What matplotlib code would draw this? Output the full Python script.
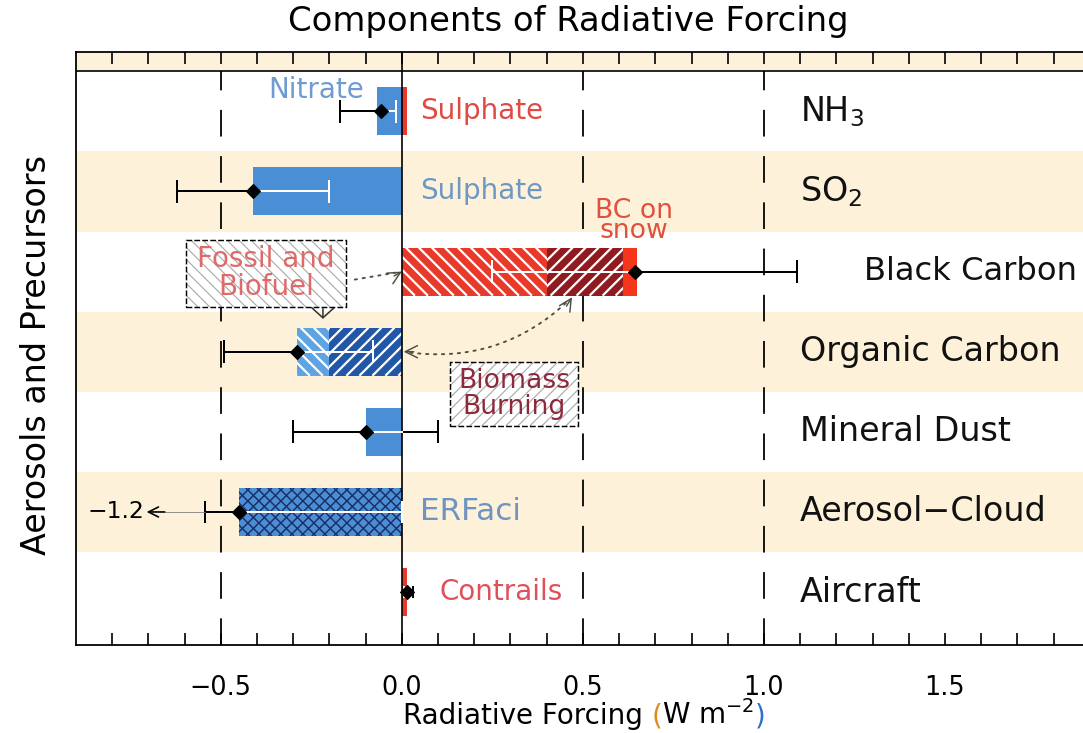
import matplotlib
matplotlib.use("Agg")
import matplotlib.pyplot as plt
from matplotlib.patches import Rectangle
from matplotlib.collections import LineCollection

# rows, top to bottom
row_names = ['NH$_3$', 'SO$_2$', 'Black Carbon', 'Organic Carbon', 'Mineral Dust', 'Aerosol\u2212Cloud', 'Aircraft']
row_y = [7, 6, 5, 4, 3, 2, 1]

# best estimate (diamond) and uncertainty range, W m-2
totals = [-0.058, -0.41, 0.644, -0.29, -0.10, -0.45, 0.015]
err_low = [-0.17, -0.62, 0.25, -0.49, -0.30, -1.2, 0.005]
err_high = [-0.016, -0.20, 1.09, -0.08, 0.10, 0.0, 0.03]

# components making up each bar
nh3_nitrate = -0.07
nh3_sulphate = 0.015
so2_sulphate = -0.41
bc_fossil = 0.40
bc_biomass = 0.21
bc_snow = 0.04
oc_biomass = -0.20
oc_fossil = -0.09
dust = -0.10
aci = -0.45
contrails = 0.015

xticks = [-0.5, 0.0, 0.5, 1.0, 1.5]
xtick_labels = ['\u22120.5', '0.0', '0.5', '1.0', '1.5']
dashed_x = [-0.5, 0.5, 1.0]

BEIGE = '#fdf2d9'
BLUE = '#4a8fd6'
RED = '#e8392b'
DARKRED = '#8f1b20'
SNOWRED = '#f5361c'
LIGHTBLUE = '#5ea3e2'
DARKBLUE = '#2256a6'
NAVY = '#1b2c62'

DPI = 80
W, H_PX = 1083, 733
XLIM = (-0.9, 2.0)
YLIM = (0.34, 7.74)
AX_W, AX_H = 1050, 593
fig = plt.figure(figsize=(W / DPI, H_PX / DPI), dpi=DPI)
ax = fig.add_axes([76 / W, 1 - 645 / H_PX, AX_W / W, AX_H / H_PX])
ax.set_xlim(*XLIM)
ax.set_ylim(*YLIM)
SX = AX_W / (XLIM[1] - XLIM[0])   # px per x unit
SY = AX_H / (YLIM[1] - YLIM[0])   # px per y unit

# background bands
for y in [6, 4, 2]:
    ax.axhspan(y - 0.5, y + 0.5, color=BEIGE, lw=0, zorder=0)
ax.axhspan(7.5, 7.74, color=BEIGE, lw=0, zorder=0)
ax.axhline(7.5, color='black', lw=1.5, zorder=1)

for x in dashed_x:
    ax.plot([x, x], [0.34, 7.5], color='black', lw=1.6, dashes=(15, 11), zorder=1)
ax.axvline(0, color='black', lw=1.5, zorder=4)

H = 0.6


def hatch_lines(patch, x0, x1, y0, y1, direction, step_px, color, lw, zorder):
    # 45 degree lines (on screen) clipped to the patch
    x0, x1 = min(x0, x1), max(x0, x1)
    dx = (y1 - y0) * SY / SX
    step = step_px / SX
    segs = []
    c = x0 - dx
    while c < x1 + step:
        if direction == '/':
            segs.append([(c, y0), (c + dx, y1)])
        else:
            segs.append([(c, y1), (c + dx, y0)])
        c += step
    lc = LineCollection(segs, colors=color, linewidths=lw, zorder=zorder)
    ax.add_collection(lc)
    lc.set_clip_path(patch)


def hbar(y, left, width, color, hatch=None, hcolor='white', hlw=2.0, step=13):
    p = ax.barh(y, width, left=left, height=H, color=color, lw=0, zorder=2)[0]
    for d in (hatch or ''):
        hatch_lines(p, left, left + width, y - H / 2, y + H / 2, d, step, hcolor, hlw, 2.5)
    return p


# NH3
hbar(7, 0, nh3_nitrate, BLUE)
hbar(7, 0, nh3_sulphate, RED)
# SO2
hbar(6, 0, so2_sulphate, BLUE)
# black carbon: fossil+biofuel, biomass burning, snow
hbar(5, 0, bc_fossil, RED, '\\')
hbar(5, bc_fossil, bc_biomass, DARKRED, '/')
hbar(5, bc_fossil + bc_biomass, bc_snow, SNOWRED)
# organic carbon
hbar(4, 0, oc_biomass, DARKBLUE, '/')
hbar(4, oc_biomass, oc_fossil, LIGHTBLUE, '\\')
# dust
hbar(3, 0, dust, BLUE)
# aerosol-cloud
hbar(2, 0, aci, BLUE, '/\\', NAVY, 1.3, 11)
# contrails
hbar(1, 0, contrails, RED)

bar_span = {
    7: (nh3_nitrate, nh3_sulphate),
    6: (so2_sulphate, 0),
    5: (0, bc_fossil + bc_biomass + bc_snow),
    4: (oc_biomass + oc_fossil, 0),
    3: (dust, 0),
    2: (aci, 0),
    1: (0, contrails),
}


def errbar(y, lo, hi, tot, cap=0.13):
    b0, b1 = bar_span[y]
    if lo > XLIM[0]:
        ax.plot([lo, hi], [y, y], color='black', lw=1.8, zorder=5)
    w0, w1 = max(lo, b0), min(hi, b1)
    if w1 > w0:
        ax.plot([w0, w1], [y, y], color='white', lw=1.8, zorder=5)
    for e in (lo, hi):
        if e <= XLIM[0]:
            continue
        c = 'white' if b0 <= e <= b1 and e != 0 else 'black'
        if y == 2 and e == 0:
            c = 'white'
        ax.plot([e, e], [y - cap, y + cap], color=c, lw=1.8, zorder=5)
    ax.plot(tot, y, 'D', color='black', ms=8.5, zorder=6)


for y, lo, hi, t in zip(row_y, err_low, err_high, totals):
    errbar(y, lo, hi, t, cap=0.06 if y == 1 else 0.13)

# aerosol-cloud lower bound goes off scale
ax.plot([-0.545, aci], [2, 2], color='black', lw=1.8, zorder=5)
ax.plot([-0.545, -0.545], [1.87, 2.13], color='black', lw=1.8, zorder=5)
ax.plot([-0.655, -0.545], [2, 2], color='#777777', lw=0.7, zorder=5)
ax.annotate('', xy=(-0.705, 2.0), xytext=(-0.655, 2.0),
            arrowprops=dict(arrowstyle='->,head_length=0.9,head_width=0.45', color='black',
                            lw=1.5, shrinkA=0, shrinkB=0), zorder=6)
ax.text(-0.712, 2.0, '\u22121.2', ha='right', va='center', fontsize=21, color='black', zorder=6)

# row names on the right
for y, name in zip(row_y, row_names):
    if name == 'Black Carbon':
        ax.text(1.277, y, name, ha='left', va='center', fontsize=29, color='#111111', zorder=6)
    else:
        ax.text(1.10, y, name, ha='left', va='center', fontsize=30, color='#111111', zorder=6)

# component labels
lab = dict(fontsize=25, va='center', zorder=6)
ax.text(-0.238, 7.26, 'Nitrate', ha='center', color='#6f9bd0', **lab)
ax.text(0.05, 7.0, 'Sulphate', ha='left', color='#e04a43', **lab)
ax.text(0.05, 6.0, 'Sulphate', ha='left', color='#6f97c6', **lab)
ax.text(0.64, 5.63, 'BC on\nsnow', ha='center', color='#e0503e', linespacing=0.72,
        fontsize=24, va='center', zorder=6)
ax.text(0.05, 2.0, 'ERFaci', ha='left', color='#6f93c2', fontsize=28, va='center', zorder=6)
ax.text(0.105, 1.0, 'Contrails', ha='left', color='#e0505a', **lab)


def label_box(x0, y0, x1, y1, hatch, text, tcolor, size):
    r = Rectangle((x0, y0), x1 - x0, y1 - y0, facecolor='white', lw=0, zorder=6)
    ax.add_patch(r)
    hatch_lines(r, x0, x1, y0, y1, hatch, 12, '#a8a8a8', 1.0, 6.5)
    ax.add_patch(Rectangle((x0, y0), x1 - x0, y1 - y0, fill=False, edgecolor='black',
                           lw=1.3, linestyle=(0, (4, 1.5)), zorder=7))
    ax.text((x0 + x1) / 2, (y0 + y1) / 2, text, ha='center', va='center', fontsize=size,
            color=tcolor, linespacing=0.98, zorder=8)


label_box(-0.597, 4.56, -0.155, 5.40, '\\', 'Fossil and\nBiofuel', '#e06a6a', 25)
label_box(0.133, 3.07, 0.486, 3.875, '/', 'Biomass\nBurning', '#8c2a3c', 24)

DOT = '#4d4d40'
head = 'head_length=1.1,head_width=0.55'
# fossil -> black carbon
ax.annotate('', xy=(0.0, 5.0), xytext=(-0.13, 4.9),
            arrowprops=dict(arrowstyle='-', color=DOT, lw=1.7, linestyle=(0, (1.2, 3)),
                            shrinkA=0, shrinkB=6))
ax.annotate('', xy=(0.0, 5.0), xytext=(-7, -4), textcoords='offset points',
            arrowprops=dict(arrowstyle='->,' + head, color=DOT, lw=1.3, shrinkA=0, shrinkB=0))
# fossil -> organic carbon
ax.annotate('', xy=(-0.218, 4.41), xytext=(0, 9), textcoords='offset points',
            arrowprops=dict(arrowstyle='->,head_length=0.9,head_width=1.0', color='#333333',
                            lw=1.4, shrinkA=0, shrinkB=0))
# biomass: organic carbon <-> black carbon
ax.annotate('', xy=(0.47, 4.68), xytext=(0.005, 4.0),
            arrowprops=dict(arrowstyle='-', color=DOT, lw=1.7, linestyle=(0, (1.2, 3)),
                            connectionstyle='arc3,rad=0.25', shrinkA=6, shrinkB=6))
ax.annotate('', xy=(0.005, 4.0), xytext=(9, 0), textcoords='offset points',
            arrowprops=dict(arrowstyle='->,' + head, color=DOT, lw=1.3, shrinkA=0, shrinkB=0))
ax.annotate('', xy=(0.47, 4.68), xytext=(-5, -8), textcoords='offset points',
            arrowprops=dict(arrowstyle='->,' + head, color=DOT, lw=1.3, shrinkA=0, shrinkB=0))

# axes frame and ticks
for s in ['left', 'top', 'bottom']:
    ax.spines[s].set_linewidth(1.6)
ax.spines['right'].set_visible(False)
ax.set_yticks([])
ax.set_xticks(xticks)
ax.set_xticklabels(xtick_labels, fontsize=23)
ax.set_xticks([round(-0.8 + 0.1 * i, 1) for i in range(28)], minor=True)
ax.tick_params(axis='x', which='both', direction='in', top=True, length=11, width=1.5,
               pad=27)

# x label pieces, the brackets are coloured
renderer = fig.canvas.get_renderer()
pieces = [('Radiative Forcing ', 'black'), ('(', '#e08a1e'),
          ('W m$^{-2}$', 'black'), (')', '#2f6fd0')]
total_w = 0
for s, c in pieces:
    t = fig.text(0, 0, s, fontsize=25)
    total_w += t.get_window_extent(renderer).width
    t.remove()
x_px = 584 - total_w / 2
for s, c in pieces:
    t = fig.text(x_px / W, 1 - 724 / H_PX, s, fontsize=25, color=c, ha='left', va='baseline')
    x_px += t.get_window_extent(renderer).width

fig.text(568 / W, 1 - 22 / H_PX, 'Components of Radiative Forcing', ha='center',
         va='center', fontsize=30.5)
fig.text(37 / W, 1 - 355 / H_PX, 'Aerosols and Precursors', ha='center', va='center',
         rotation=90, fontsize=30)

fig.savefig('out.png', dpi=DPI)
